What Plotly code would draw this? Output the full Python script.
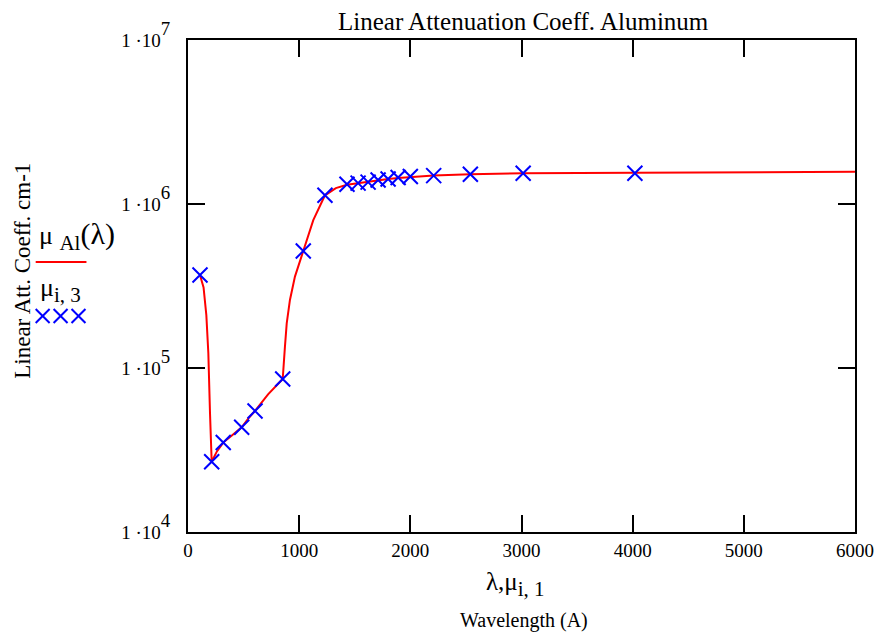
import plotly.graph_objects as go

# Tabulated attenuation coefficients (wavelength in Angstrom, mu in cm^-1)
wavelength_pts = [108, 213, 317, 483, 603, 852, 1037, 1232, 1430, 1530, 1620,
                  1710, 1800, 1890, 2000, 2210, 2540, 3015, 4020]
mu_pts = [3.69e5, 2.68e4, 3.51e4, 4.35e4, 5.47e4, 8.57e4, 5.17e5, 1.13e6, 1.32e6,
          1.34e6, 1.36e6, 1.40e6, 1.42e6, 1.45e6, 1.47e6, 1.49e6, 1.52e6, 1.54e6, 1.54e6]

# Interpolating function mu_Al(lambda)
wavelength_curve = [108, 140, 165, 183, 198, 213, 260, 317, 400, 483, 540, 603, 720,
                    852, 872, 888, 917, 962, 1037, 1127, 1232, 1330, 1430, 1530, 1620,
                    1710, 1800, 1890, 2000, 2210, 2540, 3015, 4020, 5000, 6000]
mu_curve = [3.69e5, 3.1e5, 2.1e5, 1.23e5, 5.3e4, 2.68e4, 3.1e4, 3.51e4, 3.9e4, 4.35e4,
            4.9e4, 5.47e4, 6.9e4, 8.57e4, 1.35e5, 1.87e5, 2.6e5, 3.61e5, 5.17e5, 7.98e5,
            1.13e6, 1.25e6, 1.31e6, 1.34e6, 1.37e6, 1.40e6, 1.42e6, 1.44e6, 1.46e6,
            1.49e6, 1.52e6, 1.54e6, 1.55e6, 1.56e6, 1.57e6]

x_ticks = [0, 1000, 2000, 3000, 4000, 5000, 6000]
y_ticks = [1e4, 1e5, 1e6, 1e7]
y_exponents = [4, 5, 6, 7]
y_tick_text = ['1 ·10<span style="font-size:27px"><sup>%d</sup></span>' % e for e in y_exponents]

FONT = "Liberation Serif"
RED = "#ff0000"
BLUE = "#0000ff"

fig = go.Figure()
fig.add_trace(go.Scatter(x=wavelength_curve, y=mu_curve, mode="lines",
                         line=dict(color=RED, width=2), showlegend=False))
fig.add_trace(go.Scatter(x=wavelength_pts, y=mu_pts, mode="markers",
                         marker=dict(symbol="x-thin", size=15, line=dict(color=BLUE, width=2)),
                         showlegend=False))

L, R, T, B = 188, 858, 40, 532
W, H = 886, 637


def px(x):
    return (x - L) / (R - L)


def py(y):
    return (B - y) / (B - T)


def label(text, x, y, size, xanchor="center", angle=0):
    return dict(text=text, x=px(x), y=py(y), xref="paper", yref="paper", showarrow=False,
                xanchor=xanchor, yanchor="middle", textangle=angle,
                font=dict(family=FONT, size=size, color="black"))


annotations = [
    label("Linear Attenuation Coeff. Aluminum", 525, 21, 25),
    label("Linear Att. Coeff. cm-1", 21, 271, 23, angle=-90),
    label('λ,μ<span style="font-size:30px"><sub>i, 1</sub></span>', 517, 584, 25),
    label("Wavelength (A)", 526, 620, 20),
    label('μ <span style="font-size:30px"><sub>Al</sub></span><span style="font-size:30px">(λ)</span>',
          36, 236, 26, xanchor="left"),
    label('μ<span style="font-size:30px"><sub>i, 3</sub></span>', 37, 290, 26, xanchor="left"),
]

shapes = [
    dict(type="line", xref="paper", yref="paper", x0=px(35), x1=px(86), y0=py(262), y1=py(262),
         line=dict(color=RED, width=2)),
]
# three legend crosses
for cx in (42, 60, 78):
    for d in (1, -1):
        shapes.append(dict(type="line", xref="paper", yref="paper",
                           x0=px(cx - 7), x1=px(cx + 7), y0=py(316 - 7 * d), y1=py(316 + 7 * d),
                           line=dict(color=BLUE, width=2)))

fig.update_layout(
    width=W, height=H,
    margin=dict(l=L, r=W - R, t=T, b=H - B),
    paper_bgcolor="white", plot_bgcolor="white",
    annotations=annotations, shapes=shapes,
    font=dict(family=FONT, color="black"),
)
fig.update_xaxes(range=[0, 6000], tickvals=x_ticks, ticks="inside", ticklen=17, tickwidth=2,
                 tickcolor="black", showline=True, linecolor="black", linewidth=2, mirror="ticks",
                 showgrid=False, zeroline=False, tickfont=dict(family=FONT, size=19, color="black"))
fig.update_yaxes(type="log", range=[4, 7], tickvals=y_ticks, ticktext=y_tick_text,
                 ticks="inside", ticklen=17, tickwidth=2, tickcolor="black", showline=True,
                 linecolor="black", linewidth=2, mirror="ticks", showgrid=False, zeroline=False,
                 ticklabelstandoff=12, tickfont=dict(family=FONT, size=19, color="black"))

fig.write_html("out.html")
